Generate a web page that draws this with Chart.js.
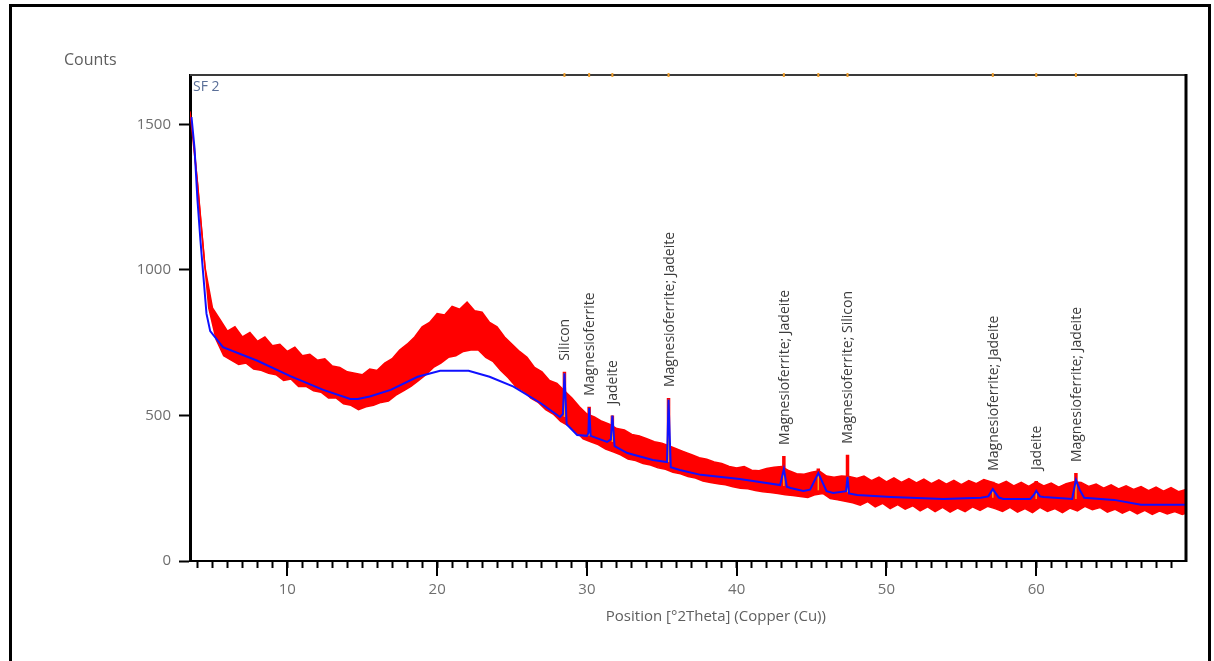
<!DOCTYPE html>
<html><head><meta charset="utf-8">
<script src="https://cdn.jsdelivr.net/npm/chart.js@4.4.1/dist/chart.umd.min.js"></script>
<style>
html,body{margin:0;padding:0;background:#fff;}
#wrap{position:relative;width:1214px;height:661px;overflow:hidden;background:#fff;}
#frame{position:absolute;left:9px;top:4px;width:1196px;height:700px;border:3px solid #000;pointer-events:none;}
canvas{position:absolute;left:0;top:0;}
</style></head>
<body><div id="wrap"><canvas id="c" width="1214" height="661"></canvas><div id="frame"></div></div>
<script>
// ---- data ----
const gridStart = 3.5, gridStep = 0.5;           // x grid of the measured band (°2θ)
const redHigh = [1545,1300,1010,870,830,790,805,770,785,755,770,740,745,720,735,705,710,690,695,670,665,650,645,640,660,655,680,695,725,745,770,805,820,850,845,875,865,890,860,855,820,805,770,745,720,700,665,650,620,610,585,560,530,505,495,480,470,455,450,435,430,420,410,405,395,385,375,365,355,350,340,335,325,320,325,312,310,318,322,325,310,300,298,305,310,292,288,292,290,
  284,292,276,288,272,286,270,283,268,281,266,279,264,277,262,276,266,280,272,262,274,258,270,256,272,258,268,254,266,272,270,256,264,250,262,248,258,246,256,242,254,240,252,238,246];
const redLow  = [1440,1150,870,760,705,690,675,680,660,655,645,640,620,625,600,600,585,580,560,560,540,535,520,530,535,545,550,570,585,600,620,640,665,680,700,705,720,725,725,700,685,655,630,600,585,560,545,520,505,480,465,445,420,410,400,385,375,365,350,345,335,330,320,315,305,300,290,285,275,270,265,262,255,250,248,242,238,235,232,228,225,222,218,228,232,215,210,205,200,
  192,204,186,198,180,194,178,190,172,186,170,184,168,182,170,186,174,188,180,170,184,168,180,166,184,170,180,166,182,172,188,176,184,168,178,164,176,162,174,160,172,162,170,160,168];

const blueX = [3.6,3.8,4.0,4.2,4.4,4.6,4.85,5.7,8.0,10.2,12.4,14.2,14.7,15.5,16.9,18.7,20.2,22.1,23.5,25.1,26.9,28.2,28.4,28.5,28.65,29.35,30.0,30.1,30.15,30.25,31.35,31.6,31.7,31.85,32.7,34.4,35.35,35.45,35.6,36.2,37.6,40.2,42.9,43.15,43.35,43.6,44.45,44.9,45.45,46.0,46.45,47.3,47.4,47.5,48.05,50.3,53.8,56.3,56.8,57.1,57.5,57.8,59.6,59.85,60.0,60.25,60.5,62.4,62.65,62.9,63.2,65.2,67.0,70.0];
const blueY = [1525,1420,1240,1100,975,850,790,735,688,635,588,557,557,565,588,633,654,654,633,599,543,495,505,645,470,433,430,440,526,430,409,418,500,395,371,347,340,555,322,313,296,282,261,316,255,251,241,245,302,240,234,240,289,232,227,220,213,217,222,247,218,213,213,228,241,222,220,213,279,245,217,210,193,193];

const peakX      = [28.5,30.15,31.7,35.45,43.15,45.45,47.4,57.1,60.0,62.65];
const peakRed    = [650,530,500,560,361,318,365,272,275,302];
const peakBase   = [495,430,409,340,258,243,236,217,213,213];
const peakTop    = [645,526,500,555,316,302,289,247,241,279];
const peakLabels = ['Silicon','Magnesioferrite','Jadeite','Magnesioferrite; Jadeite','Magnesioferrite; Jadeite','','Magnesioferrite; Silicon','Magnesioferrite; Jadeite','Jadeite','Magnesioferrite; Jadeite'];

const xMajorTicks = [10,20,30,40,50,60];
const xMinorTicks = [4,5,6,7,8,9,10,11,12,13,14,15,16,17,18,19,20,21,22,23,24,25,26,27,28,29,30,31,32,33,34,35,36,37,38,39,40,41,42,43,44,45,46,47,48,49,50,51,52,53,54,55,56,57,58,59,60,61,62,63,64,65,66,67,68,69];
const yTicks = [0,500,1000,1500];
const xRange = [3.5,70], yRange = [0,1670];
const xTitle = 'Position [°2Theta] (Copper (Cu))';
const yTitle = 'Counts';
const sampleName = 'SF 2';

// ---- build datasets ----
const highPts = redHigh.map((h,i)=>({x:gridStart + i*gridStep, y:h}));
const lowPts = redLow.map((l,i)=>({x:gridStart + i*gridStep + gridStep/2, y:l}));
const spikePts = [];
peakX.forEach((x,i)=>{ spikePts.push({x:x, y:peakBase[i]}, {x:x, y:peakRed[i]}, {x:x, y:null}); });
const bluePts = blueX.map((x,i)=>({x:x, y:blueY[i]}));

const FONT = "'Open Sans', 'DejaVu Sans', sans-serif";

const decor = {
  id:'decor',
  afterDatasetDraw(chart, args){
    if (args.index !== 1) return; // after red, before blue
    const {ctx, scales:{x, y}} = chart;
    ctx.save();
    ctx.strokeStyle = '#ff9a1a'; ctx.lineWidth = 1.5;
    peakX.forEach((px,i)=>{
      const xp = x.getPixelForValue(px);
      ctx.beginPath();
      ctx.moveTo(xp, y.getPixelForValue(peakBase[i]));
      ctx.lineTo(xp, y.getPixelForValue(peakTop[i]));
      ctx.stroke();
    });
    ctx.restore();
  },
  afterDraw(chart){
    const {ctx, chartArea:a, scales:{x, y}} = chart;
    ctx.save();
    ctx.strokeStyle = '#3a3a3a'; ctx.lineWidth = 2;
    ctx.beginPath(); ctx.moveTo(a.left, a.top); ctx.lineTo(a.right+1, a.top); ctx.stroke();
    ctx.strokeStyle = '#000'; ctx.lineWidth = 3;
    ctx.beginPath(); ctx.moveTo(a.right, a.top-1); ctx.lineTo(a.right, a.bottom+1); ctx.stroke();
    ctx.lineWidth = 2; ctx.strokeStyle = '#000';
    xMajorTicks.forEach(v=>{
      const xp = Math.round(x.getPixelForValue(v));
      ctx.beginPath(); ctx.moveTo(xp, a.bottom); ctx.lineTo(xp, a.bottom+15); ctx.stroke();
    });
    ctx.strokeStyle = '#f0a030'; ctx.lineWidth = 2;
    peakX.forEach(v=>{
      const xp = x.getPixelForValue(v);
      ctx.beginPath(); ctx.moveTo(xp, a.top-2); ctx.lineTo(xp, a.top+2); ctx.stroke();
    });
    ctx.fillStyle = '#3c3c3c';
    ctx.font = '14px ' + FONT;
    ctx.textAlign = 'left'; ctx.textBaseline = 'middle';
    peakX.forEach((v,i)=>{
      if (!peakLabels[i]) return;
      const xp = x.getPixelForValue(v);
      const yp = y.getPixelForValue(peakRed[i]) - 11;
      ctx.save(); ctx.translate(xp+1, yp); ctx.rotate(-Math.PI/2);
      ctx.fillText(peakLabels[i], 0, 0); ctx.restore();
    });
    ctx.fillStyle = '#5a6f98'; ctx.font = '14px ' + FONT;
    ctx.fillText(sampleName, a.left+3, a.top+12);
    ctx.fillStyle = '#5e5e5e'; ctx.font = '16px ' + FONT;
    ctx.textAlign = 'left';
    ctx.fillText(yTitle, 64, 60);
    ctx.font = '15px ' + FONT;
    ctx.textAlign = 'center';
    ctx.fillText(xTitle, a.left + (a.right-a.left)*0.528, 617);
    ctx.restore();
  }
};

new Chart(document.getElementById('c'), {
  type:'line',
  data:{ datasets:[
    {label:'fit', data:bluePts, borderColor:'#1010ff', borderWidth:2, pointRadius:0, tension:0, fill:false},
    {label:'measured peaks', data:spikePts, borderColor:'#ff0000', borderWidth:3.5, pointRadius:0, tension:0, fill:false, spanGaps:false},
    {label:'measured high', data:highPts, borderColor:'#ff0000', backgroundColor:'#ff0000', borderWidth:1.5, pointRadius:0, tension:0, fill:'+1'},
    {label:'measured low', data:lowPts, borderColor:'#ff0000', borderWidth:1.5, pointRadius:0, tension:0, fill:false}
  ]},
  options:{
    responsive:false, animation:false, devicePixelRatio:1,
    layout:{padding:{left:0, top:75, right:28, bottom:0}},
    plugins:{legend:{display:false}, tooltip:{enabled:false}, filler:{propagate:false}},
    scales:{
      x:{type:'linear', min:xRange[0], max:xRange[1],
         border:{display:true, color:'#000', width:2},
         grid:{drawOnChartArea:false, drawTicks:true, tickLength:7, tickWidth:2, tickColor:'#000'},
         afterBuildTicks:s=>{ s.ticks = xMinorTicks.map(v=>({value:v})); },
         afterFit:s=>{ s.height = 100; },
         ticks:{autoSkip:false, maxRotation:0, padding:13, color:'#6e6e6e', font:{family:FONT, size:15},
                callback:v=> xMajorTicks.includes(v) ? String(v) : ''}
      },
      y:{type:'linear', min:yRange[0], max:yRange[1],
         border:{display:true, color:'#000', width:3},
         grid:{drawOnChartArea:false, drawTicks:true, tickLength:11, tickWidth:2, tickColor:'#000'},
         afterBuildTicks:s=>{ s.ticks = yTicks.map(v=>({value:v})); },
         afterFit:s=>{ s.width = 190; },
         ticks:{padding:8, color:'#6e6e6e', font:{family:FONT, size:15}, callback:v=>String(v)}
      }
    }
  },
  plugins:[decor]
});
</script>
</body></html>
